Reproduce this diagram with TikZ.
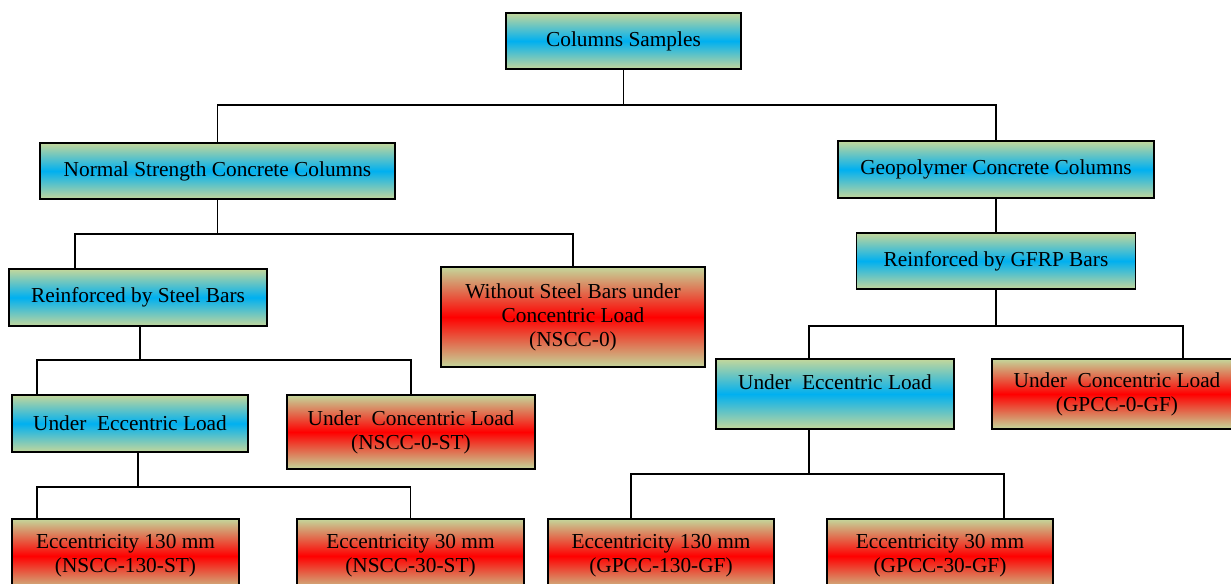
\documentclass[tikz,border=0pt]{standalone}
\usepackage{fontspec}
\setmainfont{Liberation Serif}
\usetikzlibrary{calc}
\definecolor{boxolive}{HTML}{C4D79B}
\definecolor{boxblue}{HTML}{00B0F0}
\definecolor{boxred}{HTML}{FF0000}
\def\pxl{0.75pt}
\tikzset{
  bluebox/.style={draw, line width=1.4pt, top color=boxolive, bottom color=boxolive, middle color=boxblue,
    align=center, inner sep=0pt, font=\fontsize{16}{18}\selectfont},
  redbox/.style={bluebox, middle color=boxred},
  link/.style={line width=1.3pt}
}
\begin{document}
\begin{tikzpicture}[x=0.75pt,y=-0.75pt]
                \useasboundingbox (0,0) rectangle (1231,584);
                \node[bluebox, minimum width=235*\pxl, minimum height=56*\pxl] (root) at (623.5,41) {Columns Samples};
                \node[bluebox, minimum width=355*\pxl, minimum height=56*\pxl] (nscc) at (217.5,171) {Normal Strength Concrete Columns};
                \node[bluebox, minimum width=316*\pxl, minimum height=57*\pxl] (gpcc) at (996,169.5) {Geopolymer Concrete Columns};
                \draw[link] (root.south) -- ++(0,35) coordinate (j1);
                \draw[link] (nscc.north) |- (j1) -| (gpcc.north);
                \node[bluebox, minimum width=258*\pxl, minimum height=57*\pxl] (steel) at (138,297.5) {Reinforced by Steel Bars};
                \node[redbox, minimum width=264*\pxl, minimum height=100*\pxl] (nosteel) at (573,317) {Without Steel Bars under\\Concentric Load\\(NSCC-0)};
                \draw[link] (nscc.south) -- ++(0,34) coordinate (j2);
                \draw[link] ($(steel.north west)+(67,0)$) |- (j2) -| (nosteel.north);
                \node[bluebox, minimum width=236*\pxl, minimum height=57*\pxl] (eccS) at (130,423.5) {Under\ \ Eccentric Load};
                \node[redbox, minimum width=248*\pxl, minimum height=74*\pxl] (conS) at (411,432) {Under\ \ Concentric Load\\(NSCC-0-ST)};
                \draw[link] ($(steel.south)+(2,0)$) -- ++(0,33) coordinate (j3);
                \draw[link] ($(eccS.north west)+(26,0)$) |- (j3) -| (conS.north);
                \node[redbox, minimum width=227*\pxl, minimum height=74*\pxl] (s130) at (125.5,556) {Eccentricity 130 mm\\(NSCC-130-ST)};
                \node[redbox, minimum width=227*\pxl, minimum height=74*\pxl] (s30) at (410.5,556) {Eccentricity 30 mm\\(NSCC-30-ST)};
                \draw[link] ($(eccS.south)+(8,0)$) -- ++(0,34) coordinate (j4);
                \draw[link] ($(s130.north west)+(26,0)$) |- (j4) -| (s30.north);
                \node[bluebox, minimum width=279*\pxl, minimum height=56*\pxl] (gfrp) at (996,261) {Reinforced by GFRP Bars};
                \draw[link] (gpcc.south) -- (gfrp.north);
                \node[bluebox, minimum width=238*\pxl, minimum height=70*\pxl] (eccG) at (835,394) {Under\ \ Eccentric Load\\~};
                \node[redbox, minimum width=250*\pxl, minimum height=70*\pxl] (conG) at (1117,394) {Under\ \ Concentric Load\\(GPCC-0-GF)};
                \draw[link] (gfrp.south) -- ++(0,36) coordinate (j5);
                \draw[link] ($(eccG.north west)+(94,0)$) |- (j5) -| ($(conG.north west)+(192,0)$);
                \node[redbox, minimum width=226*\pxl, minimum height=74*\pxl] (g130) at (661,556) {Eccentricity 130 mm\\(GPCC-130-GF)};
                \node[redbox, minimum width=226*\pxl, minimum height=74*\pxl] (g30) at (940,556) {Eccentricity 30 mm\\(GPCC-30-GF)};
                \draw[link] ($(eccG.south west)+(94,0)$) -- ++(0,44) coordinate (j6);
                \draw[link] ($(g130.north west)+(84,0)$) |- (j6) -| ($(g30.north west)+(178,0)$);
                \end{tikzpicture}
\end{document}
